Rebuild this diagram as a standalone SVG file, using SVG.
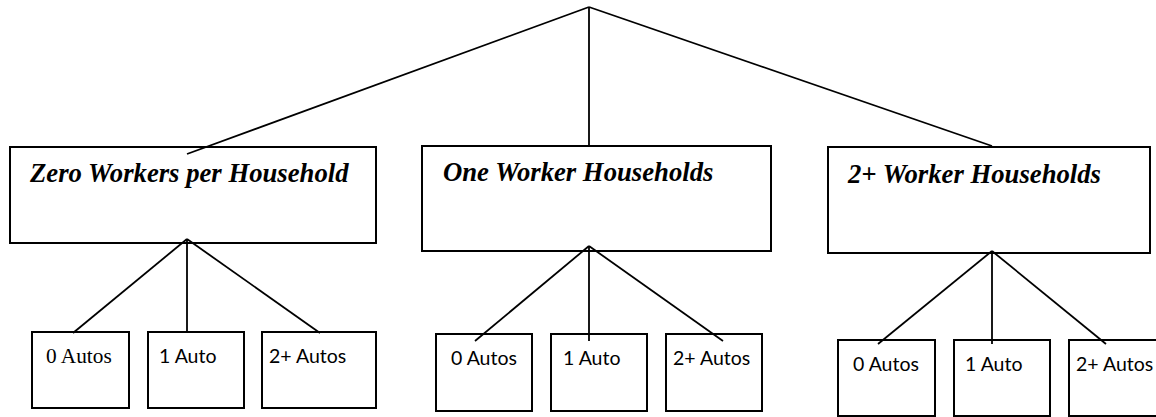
<svg xmlns="http://www.w3.org/2000/svg" width="1156" height="417" viewBox="0 0 1156 417">
<style>
.box{fill:#fff;stroke:#000;stroke-width:2}
.ln{stroke:#000;stroke-width:1.8;fill:none}
.hdr{font-family:"Liberation Serif","Times New Roman",serif;font-weight:bold;font-style:italic;font-size:26.7px;fill:#000}
.lbl{font-family:Lato,"Open Sans",sans-serif;font-size:19.5px;fill:#000}
.lbls{font-family:"Liberation Serif","Times New Roman",serif;font-size:21.3px;fill:#000}
</style>
<rect width="1156" height="417" fill="#fff"/>
<g id="n-zero"><rect class="box" x="10" y="147" width="366" height="96"/><text class="hdr" x="30" y="182">Zero Workers per Household</text></g>
<g id="n-one"><rect class="box" x="422" y="146" width="349" height="105"/><text class="hdr" x="443" y="181">One Worker Households</text></g>
<g id="n-two"><rect class="box" x="828" y="147" width="322" height="106"/><text class="hdr" x="848" y="183">2+ Worker Households</text></g>
<g id="n-z0"><rect class="box" x="32" y="332" width="97" height="76"/><text class="lbls" x="46" y="363">0 Autos</text></g>
<g id="n-z1"><rect class="box" x="148" y="332" width="96" height="76"/><text class="lbl" x="159" y="363">1 Auto</text></g>
<g id="n-z2"><rect class="box" x="262" y="332" width="114" height="76"/><text class="lbl" x="269" y="363">2+ Autos</text></g>
<g id="n-o0"><rect class="box" x="436" y="334" width="96" height="77"/><text class="lbl" x="451" y="365">0 Autos</text></g>
<g id="n-o1"><rect class="box" x="551" y="334" width="96" height="77"/><text class="lbl" x="563" y="365">1 Auto</text></g>
<g id="n-o2"><rect class="box" x="666" y="334" width="96" height="77"/><text class="lbl" x="673" y="365">2+ Autos</text></g>
<g id="n-t0"><rect class="box" x="838" y="340" width="97" height="76"/><text class="lbl" x="853" y="371">0 Autos</text></g>
<g id="n-t1"><rect class="box" x="954" y="340" width="96" height="76"/><text class="lbl" x="965" y="371">1 Auto</text></g>
<g id="n-t2"><rect class="box" x="1069" y="340" width="100" height="76"/><text class="lbl" x="1076" y="371">2+ Autos</text></g>
<g id="connectors">
<line class="ln" x1="589" y1="7" x2="187" y2="154"/>
<line class="ln" x1="589" y1="7" x2="589" y2="146"/>
<line class="ln" x1="589" y1="7" x2="992" y2="146"/>
<line class="ln" x1="187" y1="239" x2="73" y2="333"/>
<line class="ln" x1="187" y1="239" x2="187" y2="333"/>
<line class="ln" x1="187" y1="239" x2="320" y2="333"/>
<line class="ln" x1="589" y1="246" x2="475" y2="341"/>
<line class="ln" x1="589" y1="246" x2="589" y2="341"/>
<line class="ln" x1="589" y1="246" x2="723" y2="341"/>
<line class="ln" x1="992" y1="251" x2="878" y2="344"/>
<line class="ln" x1="992" y1="251" x2="992" y2="344"/>
<line class="ln" x1="992" y1="251" x2="1106" y2="344"/>
</g>
</svg>
